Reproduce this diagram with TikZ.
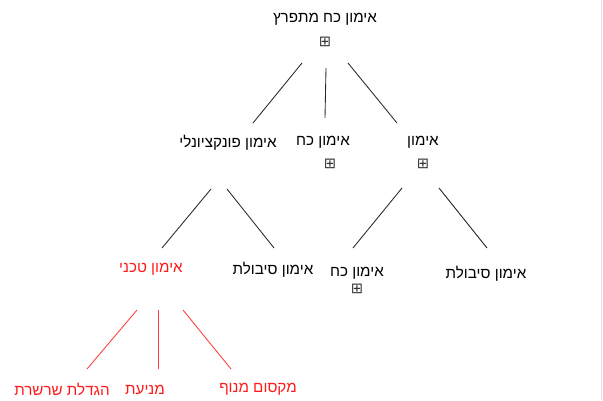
\documentclass[tikz,border=0pt]{standalone}
\usepackage{fontspec}
\setmainfont{Liberation Sans}
\newfontfamily\hebfont[Script=Hebrew]{Liberation Sans}
\newfontfamily\symfont{DejaVu Sans}
\TeXXeTstate=1
\usetikzlibrary{calc}
\definecolor{linegray}{HTML}{2A2A2A}
\definecolor{hired}{HTML}{FF1A1A}
\tikzset{
  lbl/.style={inner sep=0pt, font=\hebfont\fontsize{11.4pt}{13pt}\selectfont, text=black},
  redlbl/.style={lbl, text=hired},
  expander/.style={inner sep=0pt, font=\symfont\fontsize{11pt}{12pt}\selectfont, text=black!80},
  edge/.style={draw=linegray, line width=0.65pt},
  rededge/.style={draw=hired!85, line width=0.65pt}
}
\begin{document}
\begin{tikzpicture}[x=0.75pt, y=-0.75pt]
\useasboundingbox (0,0) rectangle (603,400);
\fill[white] (0,0) rectangle (603,400);
\draw[gray!25, line width=1pt] (601.5,0) -- (601.5,400);
% nodes
\node[lbl] (root) at (325,19.5) {\beginR אימון כח מתפרץ\endR};
\node[expander] (rootx) at (325,42) {⊞};
\node[lbl] (func) at (228,142.5) {\beginR אימון פונקציונלי\endR};
\node[lbl] (koach) at (323,142.5) {\beginR אימון כח\endR};
\node[expander] (koachx) at (330,164) {⊞};
\node[lbl] (imun) at (423,142.5) {\beginR אימון\endR};
\node[expander] (imunx) at (423,164) {⊞};
\node[redlbl] (techni) at (151,269.5) {\beginR אימון טכני\endR};
\node[lbl] (sibolA) at (273,269.5) {\beginR אימון סיבולת\endR};
\node[lbl] (koachB) at (357,273.5) {\beginR אימון כח\endR};
\node[expander] (koachBx) at (357,289) {⊞};
\node[lbl] (sibolB) at (486,273.5) {\beginR אימון סיבולת\endR};
\node[redlbl] (hagdala) at (62,389.5) {\beginR הגדלת שרשרת\endR};
\node[redlbl] (menia) at (145,389.5) {\beginR מניעת\endR};
\node[redlbl] (maksum) at (258,389.5) {\beginR מקסום מנוף\endR};
% connectors
\draw[edge] ($(root)+(-23,43.5)$) -- ($(func)+(25,-19.5)$);
\draw[edge] ($(root)+(1,48.5)$) -- ($(koach)+(2,-24.5)$);
\draw[edge] ($(root)+(23,43.5)$) -- ($(imun)+(-26,-19.5)$);
\draw[edge] ($(func)+(-17,46.5)$) -- ($(techni)+(11,-21.5)$);
\draw[edge] ($(func)+(-1,46.5)$) -- ($(sibolA)+(1,-21.5)$);
\draw[edge] ($(imun)+(-21,45.5)$) -- ($(koachB)+(-4,-25.5)$);
\draw[edge] ($(imun)+(16,45.5)$) -- ($(sibolB)+(1,-25.5)$);
\draw[rededge] ($(techni)+(-14,40.5)$) -- ($(hagdala)+(25,-20.5)$);
\draw[rededge] ($(techni)+(7,40.5)$) -- ($(menia)+(13,-20.5)$);
\draw[rededge] ($(techni)+(32,40.5)$) -- ($(maksum)+(-27,-20.5)$);
\end{tikzpicture}
\end{document}
